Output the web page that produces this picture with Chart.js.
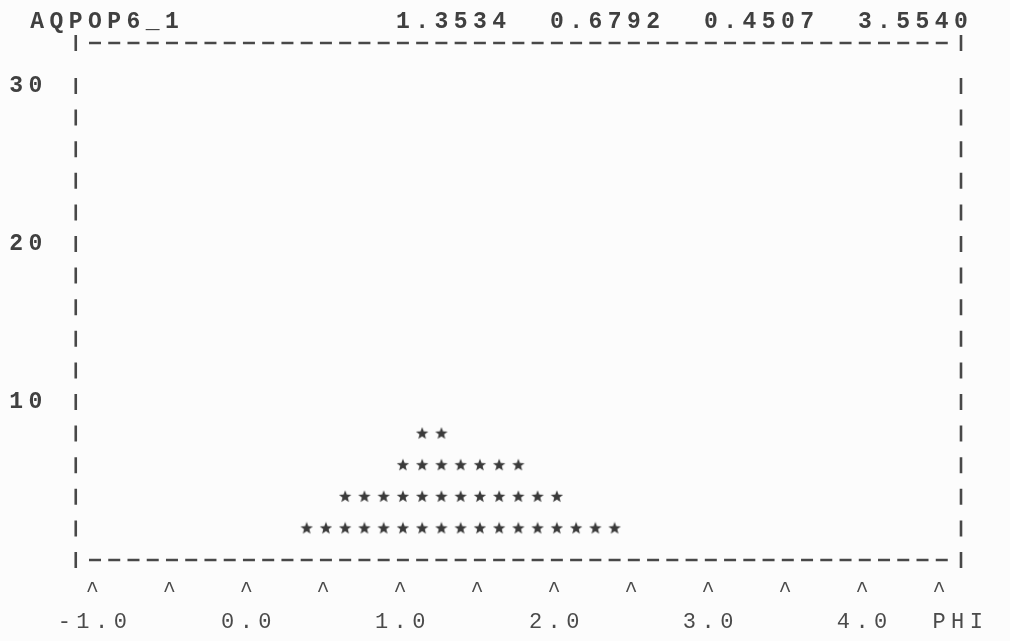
<!DOCTYPE html>
<html>
<head>
<meta charset="utf-8">
<script src="https://cdn.jsdelivr.net/npm/chart.js@4.4.0/dist/chart.umd.min.js"></script>
<style>
  html, body { margin: 0; padding: 0; background: #fcfcfc; }
  canvas { display: block; }
</style>
</head>
<body>
<canvas id="histChart" width="1010" height="641"></canvas>
<script>
// PHI histogram in the old line-printer style
const seriesName = 'AQPOP6_1';
const statValues = [1.3534, 0.6792, 0.4507, 3.5540];

const binCenters = [0.375, 0.5, 0.625, 0.75, 0.875, 1.0, 1.125, 1.25, 1.375,
                    1.5, 1.625, 1.75, 1.875, 2.0, 2.125, 2.25, 2.375];
const binCounts = [2, 2, 4, 4, 4, 6, 8, 8, 6, 6, 6, 6, 4, 4, 2, 2, 2];

const xTickValues = [-1.0, -0.5, 0.0, 0.5, 1.0, 1.5, 2.0, 2.5, 3.0, 3.5, 4.0, 4.5];
const xTickLabels = ['-1.0', '', '0.0', '', '1.0', '', '2.0', '', '3.0', '', '4.0', '  PHI'];
const yTickValues = [10, 20, 30];

const INK = '#404040';
const FONT = '"Liberation Mono", "DejaVu Sans Mono", monospace';
const FONT_SIZE = 23;
const LETTER_GAP = '5.45px';   // pads the mono font out to the printer pitch
const LINE_STEP = 31.6;        // one printed line
const CHAR_STEP = 0.125;       // one printed column, in PHI units

// one '*' for every 2 counts, stacked up each column
const starPoints = [];
binCenters.forEach((x, i) => {
    for (let level = 2; level <= binCounts[i]; level += 2) {
        starPoints.push({ x: x, y: level });
    }
});

function makeStar(size, outer, inner, color) {
    const c = document.createElement('canvas');
    c.width = size;
    c.height = size;
    const g = c.getContext('2d');
    g.fillStyle = color;
    g.beginPath();
    for (let i = 0; i < 10; i++) {
        const r = i % 2 === 0 ? outer : inner;
        const a = -Math.PI / 2 + i * Math.PI / 5;
        const px = size / 2 + r * Math.cos(a);
        const py = size / 2 + r * Math.sin(a);
        if (i === 0) g.moveTo(px, py); else g.lineTo(px, py);
    }
    g.closePath();
    g.fill();
    return c;
}

const starImg = makeStar(14, 6.5, 2.8, '#3a3a3a');

// letter spacing has to be set before the ticks are measured and before drawing
const typewriterSpacing = {
    id: 'typewriterSpacing',
    beforeLayout(chart) { chart.ctx.letterSpacing = LETTER_GAP; },
    beforeDraw(chart) { chart.ctx.letterSpacing = LETTER_GAP; }
};

// dashed '-' and '|' frame round the plot
const typedFrame = {
    id: 'typedFrame',
    beforeDatasetsDraw(chart) {
        const { ctx, chartArea: a, scales: { x, y } } = chart;
        ctx.save();
        ctx.strokeStyle = '#484848';
        ctx.lineWidth = 2.6;
        ctx.beginPath();
        for (let k = 0; k <= 44; k++) {
            const px = x.getPixelForValue(-1 + k * CHAR_STEP);
            [a.top, a.bottom].forEach(py => {
                ctx.moveTo(px - 6, py);
                ctx.lineTo(px + 6, py);
            });
        }
        const rows = [a.top];
        for (let v = 0; v <= 30; v += 2) rows.push(y.getPixelForValue(v));
        rows.forEach(py => {
            [a.left, a.right].forEach(px => {
                ctx.moveTo(px, py - 8);
                ctx.lineTo(px, py + 8);
            });
        });
        ctx.stroke();
        ctx.restore();
    }
};

// header line: series name then the four statistics, one char per column
const typedHeader = {
    id: 'typedHeader',
    afterDraw(chart) {
        const { ctx, scales: { x } } = chart;
        const line = seriesName.padEnd(19, ' ') + statValues.map(v => v.toFixed(4)).join('  ');
        ctx.save();
        ctx.letterSpacing = '0px';
        ctx.font = 'bold ' + FONT_SIZE + 'px ' + FONT;
        ctx.fillStyle = INK;
        ctx.textAlign = 'center';
        ctx.textBaseline = 'middle';
        for (let i = 0; i < line.length; i++) {
            if (line[i] === ' ') continue;
            const px = x.getPixelForValue(-1 + (i - 3) * CHAR_STEP);
            ctx.fillText(line[i], px, 22);
        }
        ctx.restore();
    }
};

new Chart(document.getElementById('histChart'), {
    type: 'scatter',
    data: {
        datasets: [{
            label: seriesName,
            data: starPoints,
            pointStyle: starImg,
            pointRadius: 6,
            showLine: false
        }]
    },
    options: {
        responsive: false,
        animation: false,
        devicePixelRatio: 1,
        layout: { padding: { left: 0, right: 49, top: 43, bottom: 0 } },
        scales: {
            x: {
                type: 'linear',
                min: -1.125,
                max: 4.625,
                grid: { display: false, drawTicks: false },
                border: { display: false },
                afterBuildTicks: s => { s.ticks = xTickValues.map(v => ({ value: v })); },
                afterFit: s => { s.height = 81; },
                ticks: {
                    autoSkip: false,
                    maxRotation: 0,
                    padding: 15,
                    color: '#4a4a4a',
                    font: { family: FONT, size: FONT_SIZE - 1, lineHeight: LINE_STEP + 'px' },
                    callback: (value, index) => ['^', xTickLabels[index]]
                }
            },
            y: {
                min: 0,
                max: 32.72,
                grid: { display: false, drawTicks: false },
                border: { display: false },
                afterBuildTicks: s => { s.ticks = yTickValues.map(v => ({ value: v })); },
                afterFit: s => { s.width = 75.75; },
                ticks: {
                    padding: 28,
                    color: INK,
                    font: { family: FONT, size: FONT_SIZE, weight: 'bold' }
                }
            }
        },
        plugins: {
            legend: { display: false },
            tooltip: { enabled: false },
            title: { display: false }
        }
    },
    plugins: [typewriterSpacing, typedFrame, typedHeader]
});
</script>
</body>
</html>
